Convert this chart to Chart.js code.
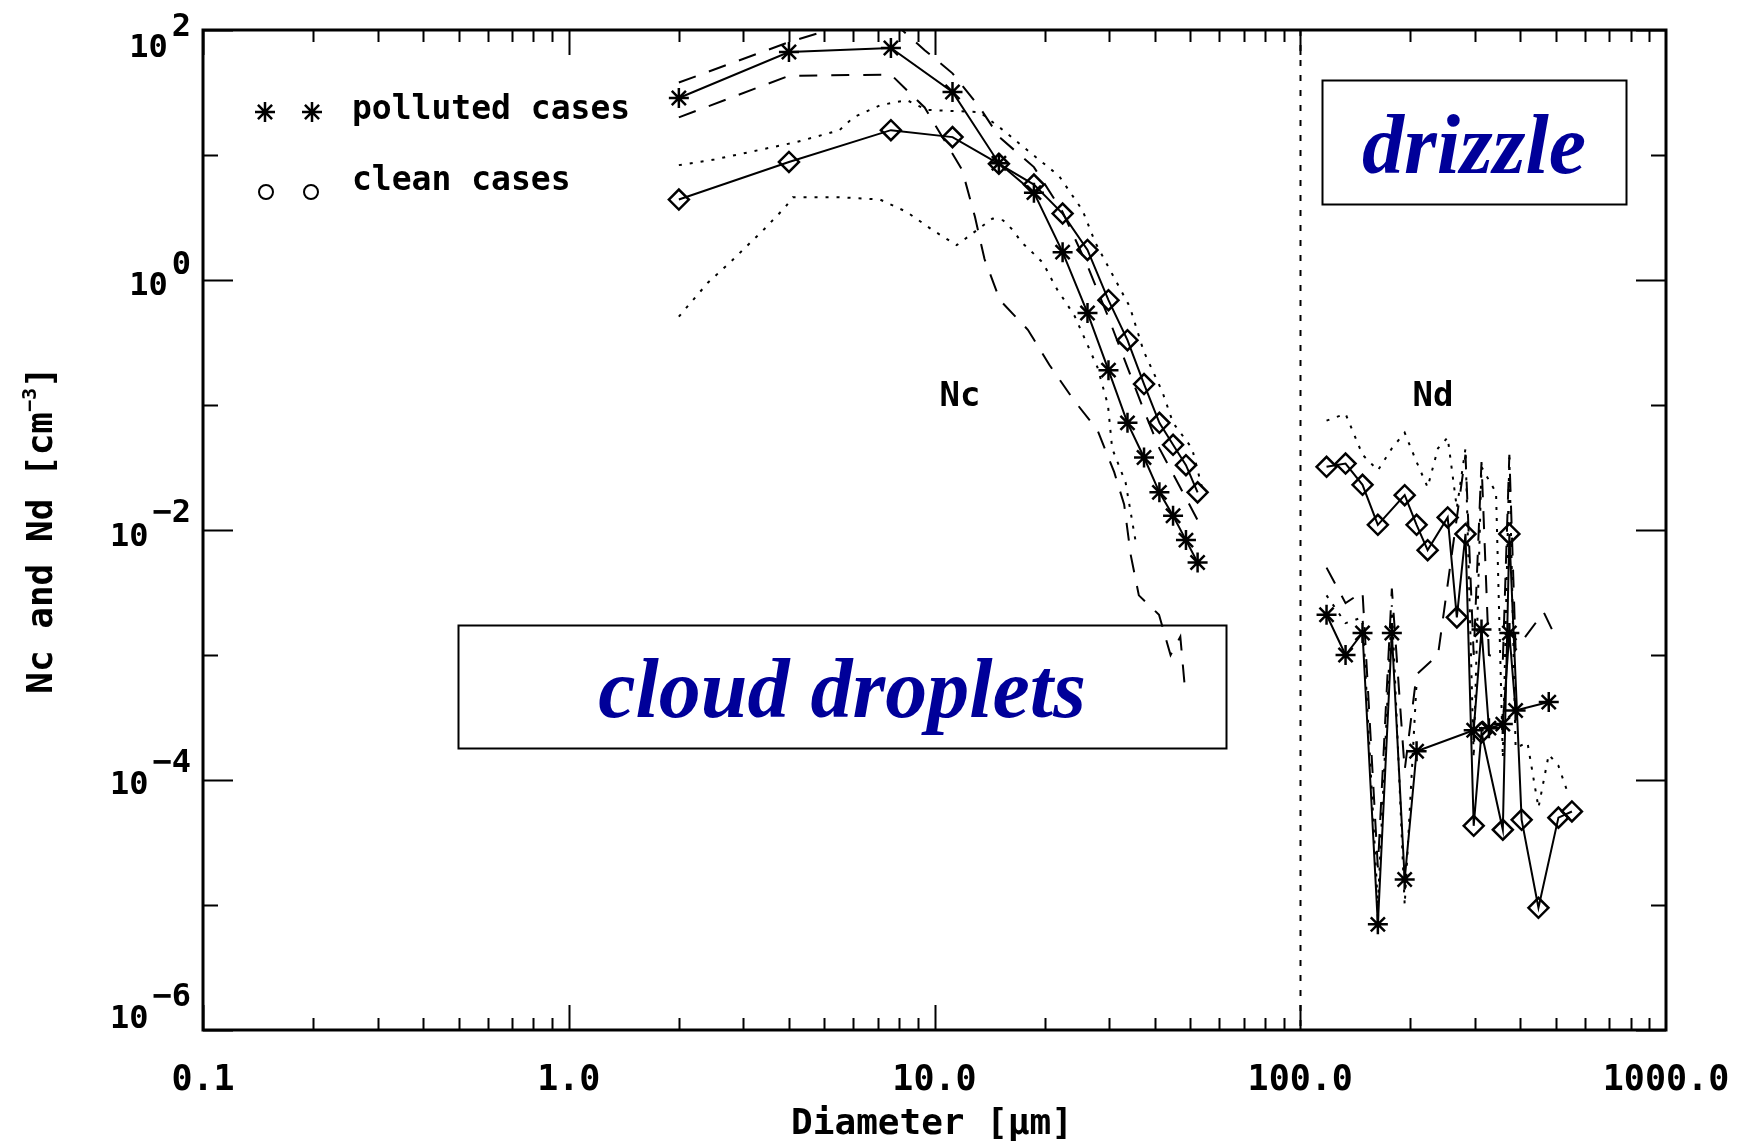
<!DOCTYPE html>
<html>
<head>
<meta charset="utf-8">
<script src="https://cdn.jsdelivr.net/npm/chart.js@4.4.1/dist/chart.umd.min.js"></script>
<style>
  html, body { margin: 0; padding: 0; background: #ffffff; }
  #wrap { width: 1746px; height: 1147px; }
</style>
</head>
<body>
<div id="wrap"><canvas id="c" width="1746" height="1147"></canvas></div>
<script>
// ---- Cloud droplet spectra (diameter in µm, concentration in cm^-3) ----
const cloudD = [2.0, 4.0, 7.6, 11.2, 15.0, 18.7, 22.4, 26.2, 29.9, 33.7, 37.4, 41.2, 44.9, 48.7, 52.4];
const pollutedMean = [28.6, 66.7, 71.8, 31.9, 8.6, 5.0, 1.67, 0.545, 0.19, 0.072, 0.038, 0.020, 0.013, 0.0083, 0.0055];
const cleanMean = [4.4, 8.8, 15.8, 13.9, 8.5, 5.8, 3.4, 1.74, 0.69, 0.33, 0.147, 0.072, 0.048, 0.033, 0.020];

const pollutedUpD = [2.0, 4.0, 6.0, 7.6, 9.4, 11.2, 13.3, 15.0, 18.7, 22.4, 26.2, 29.9, 33.7, 37.4, 41.2, 44.9, 48.7, 52.4];
const pollutedUp = [38, 80, 115, 120, 69, 45, 24, 14, 8.0, 3.5, 1.3, 0.5, 0.2, 0.09, 0.045, 0.028, 0.018, 0.012];

const pollutedLoD = [2.0, 4.0, 7.6, 9.4, 11.9, 12.9, 13.7, 15.1, 18.0, 20.6, 24.0, 27.9, 31.0, 33.0, 34.4, 36.2, 41.1, 44.2, 47.0, 48.5];
const pollutedLo = [20, 43, 44, 24, 7.6, 3.2, 1.47, 0.69, 0.40, 0.21, 0.11, 0.063, 0.029, 0.016, 0.0063, 0.0030, 0.0021, 0.0010, 0.0014, 0.0005];

const cleanUpD = [2.0, 2.5, 3.0, 4.2, 5.5, 6.0, 7.1, 8.4, 9.5, 13.3, 15.4, 18.1, 21.9, 25.4, 27.5, 30.2, 34.2, 37.3, 42.0, 44.9, 50.6, 54.3];
const cleanUp = [8.3, 9.2, 10.3, 12.7, 15.8, 20, 25, 27.5, 23, 22, 15.8, 10.7, 6.8, 3.6, 2.0, 1.2, 0.61, 0.27, 0.127, 0.072, 0.045, 0.020];

const cleanLoD = [2.0, 2.4, 2.8, 3.4, 3.9, 4.1, 5.5, 7.1, 8.4, 9.9, 11.5, 14.4, 15.4, 16.4, 17.3, 18.6, 19.8, 20.8, 21.7, 22.8, 24.2, 27.9, 29.8, 30.6, 33.3, 35.5];
const cleanLo = [0.51, 0.95, 1.44, 2.5, 3.8, 4.6, 4.6, 4.4, 3.5, 2.5, 1.9, 3.1, 3.0, 2.5, 2.0, 1.64, 1.37, 1.04, 0.83, 0.67, 0.51, 0.20, 0.10, 0.045, 0.024, 0.008];

// ---- Drizzle drop spectra ----
const drzPollMeanD = [118, 133, 148, 163, 178, 193, 208, 298, 313, 328, 358, 373, 388, 478];
const drzPollMean = [2.1e-3, 1.0e-3, 1.5e-3, 7.0e-6, 1.5e-3, 1.6e-5, 1.7e-4, 2.5e-4, 1.6e-3, 2.6e-4, 2.8e-4, 1.5e-3, 3.6e-4, 4.2e-4];

const drzPollUpD = [118, 133, 148, 163, 178, 193, 208, 238, 283, 298, 313, 328, 358, 373, 388, 463, 493];
const drzPollUp = [5.0e-3, 2.6e-3, 3.2e-3, 2.0e-5, 3.4e-3, 1.2e-4, 7.0e-4, 1.0e-3, 4.0e-2, 1.0e-3, 3.5e-2, 1.0e-3, 9.0e-4, 4.0e-2, 1.1e-3, 2.2e-3, 1.5e-3];

const drzCleanMeanD = [118, 133, 148, 163, 193, 208, 223, 253, 268, 283, 298, 313, 358, 373, 403, 448, 508, 553];
const drzCleanMean = [3.2e-2, 3.4e-2, 2.3e-2, 1.1e-2, 1.9e-2, 1.1e-2, 6.9e-3, 1.26e-2, 2.0e-3, 9.3e-3, 4.3e-5, 2.4e-4, 4.0e-5, 9.3e-3, 4.8e-5, 9.5e-6, 5.0e-5, 5.6e-5];

const drzCleanUpD = [118, 133, 148, 163, 178, 193, 208, 223, 238, 253, 268, 283, 298, 313, 328, 343, 358, 373, 388, 418, 448, 478, 508, 538];
const drzCleanUp = [7.5e-2, 8.5e-2, 4.0e-2, 3.0e-2, 4.5e-2, 6.0e-2, 3.5e-2, 2.2e-2, 4.5e-2, 5.5e-2, 1.5e-2, 4.5e-2, 1.5e-4, 3.2e-2, 2.5e-2, 2.0e-2, 1.5e-4, 3.8e-2, 1.8e-4, 2.0e-4, 6.0e-5, 1.6e-4, 1.3e-4, 8.0e-5];

const drzCleanLoD = [118, 133, 148, 163, 178, 193, 208];
const drzCleanLo = [3.0e-3, 1.8e-3, 2.0e-3, 1.0e-5, 2.5e-3, 1.0e-5, 6.0e-4];

// ---- Axis ticks and labels ----
const xTickVals = [0.1, 1, 10, 100, 1000];
const xTickLabels = ['0.1', '1.0', '10.0', '100.0', '1000.0'];
const yTickVals = [1e2, 1e0, 1e-2, 1e-4, 1e-6];
const yTickExp = ['2', '0', '\u22122', '\u22124', '\u22126'];
const yMinorVals = [1e1, 1e-1, 1e-3, 1e-5];
const boundaryD = 100;

function pts(xs, ys) { return xs.map((x, i) => ({ x: x, y: ys[i] })); }

const BLACK = '#000000';
const NONE = 'rgba(0,0,0,0)';
const DASH = [18, 14];
const DOT = [3, 8];

function series(xs, ys, dash, marker) {
  return {
    data: pts(xs, ys),
    borderColor: BLACK,
    borderWidth: 2,
    borderDash: dash,
    pointStyle: marker || 'circle',
    pointRadius: marker ? 10 : 0,
    pointBorderWidth: 2.5,
    pointBorderColor: BLACK,
    pointBackgroundColor: NONE,
    fill: false,
    tension: 0
  };
}

const MONO = '"DejaVu Sans Mono", monospace';

function drawStar(ctx, x, y, r) {
  ctx.beginPath();
  for (let k = 0; k < 4; k++) {
    const a = k * Math.PI / 4;
    ctx.moveTo(x - r * Math.cos(a), y - r * Math.sin(a));
    ctx.lineTo(x + r * Math.cos(a), y + r * Math.sin(a));
  }
  ctx.stroke();
}

const frame = {
  id: 'frame',
  beforeDraw(chart) {
    const ctx = chart.ctx;
    ctx.save();
    ctx.fillStyle = '#ffffff';
    ctx.fillRect(0, 0, chart.width, chart.height);
    ctx.restore();
  },
  beforeDatasetsDraw(chart) {
    const ctx = chart.ctx, a = chart.chartArea, xs = chart.scales.x;
    const bx = Math.round(xs.getPixelForValue(boundaryD)) + 0.5;
    ctx.save();
    ctx.strokeStyle = BLACK;
    ctx.lineWidth = 2;
    ctx.setLineDash([6, 9]);
    ctx.beginPath();
    ctx.moveTo(bx, a.top);
    ctx.lineTo(bx, a.bottom);
    ctx.stroke();
    ctx.restore();
  },
  afterDatasetsDraw(chart) {
    const ctx = chart.ctx, a = chart.chartArea;
    const xs = chart.scales.x, ys = chart.scales.y;
    ctx.save();
    ctx.strokeStyle = BLACK;
    ctx.fillStyle = BLACK;
    ctx.setLineDash([]);

    // ticks
    ctx.lineWidth = 2;
    ctx.beginPath();
    for (let e = -1; e <= 2; e++) {
      for (let k = 1; k <= 9; k++) {
        const v = k * Math.pow(10, e);
        const px = Math.round(xs.getPixelForValue(v)) + 0.5;
        const len = k === 1 ? 25 : 12;
        ctx.moveTo(px, a.bottom); ctx.lineTo(px, a.bottom - len);
        ctx.moveTo(px, a.top); ctx.lineTo(px, a.top + len);
      }
    }
    yTickVals.forEach(v => {
      const py = Math.round(ys.getPixelForValue(v)) + 0.5;
      ctx.moveTo(a.left, py); ctx.lineTo(a.left + 30, py);
      ctx.moveTo(a.right, py); ctx.lineTo(a.right - 30, py);
    });
    yMinorVals.forEach(v => {
      const py = Math.round(ys.getPixelForValue(v)) + 0.5;
      ctx.moveTo(a.left, py); ctx.lineTo(a.left + 15, py);
      ctx.moveTo(a.right, py); ctx.lineTo(a.right - 15, py);
    });
    ctx.stroke();

    // plot frame
    ctx.lineWidth = 3;
    ctx.strokeRect(a.left, a.top, a.right - a.left, a.bottom - a.top);

    // x tick labels
    ctx.font = 'bold 35px ' + MONO;
    ctx.textAlign = 'center';
    ctx.textBaseline = 'alphabetic';
    xTickVals.forEach((v, i) => {
      ctx.fillText(xTickLabels[i], xs.getPixelForValue(v), 1090);
    });

    // y tick labels: 10 with raised exponent
    const baseOff = [27, 15, 16, 14, -2];
    const expOff = [6, -6, -8, -8, -24];
    ctx.font = 'bold 32px ' + MONO;
    ctx.textAlign = 'right';
    yTickVals.forEach((v, i) => {
      const py = ys.getPixelForValue(v);
      const right = 191;
      const ew = ctx.measureText(yTickExp[i]).width;
      ctx.fillText(yTickExp[i], right, py + expOff[i]);
      ctx.fillText('10', right - ew - 4, py + baseOff[i]);
    });

    // axis titles
    ctx.font = 'bold 36px ' + MONO;
    ctx.textAlign = 'center';
    ctx.fillText('Diameter [\u00b5m]', 932, 1134);

    ctx.save();
    ctx.translate(52, 530);
    ctx.rotate(-Math.PI / 2);
    ctx.font = 'bold 36px ' + MONO;
    const t1 = 'Nc and Nd [cm';
    const t2 = '\u22123';
    const t3 = ']';
    const w1 = ctx.measureText(t1).width;
    ctx.font = 'bold 20px ' + MONO;
    const w2 = ctx.measureText(t2).width;
    ctx.font = 'bold 36px ' + MONO;
    const w3 = ctx.measureText(t3).width;
    let sx = -(w1 + w2 + w3) / 2;
    ctx.textAlign = 'left';
    ctx.fillText(t1, sx, 0);
    ctx.font = 'bold 20px ' + MONO;
    ctx.fillText(t2, sx + w1, -16);
    ctx.font = 'bold 36px ' + MONO;
    ctx.fillText(t3, sx + w1 + w2, 0);
    ctx.restore();

    // region labels
    ctx.font = 'bold 34px ' + MONO;
    ctx.textAlign = 'center';
    ctx.fillText('Nc', 960, 406);
    ctx.fillText('Nd', 1433, 406);

    // legend
    ctx.lineWidth = 2.5;
    drawStar(ctx, 265, 112, 10);
    drawStar(ctx, 312, 112, 10);
    ctx.lineWidth = 2;
    ctx.beginPath(); ctx.arc(266, 192, 7, 0, 2 * Math.PI); ctx.stroke();
    ctx.beginPath(); ctx.arc(311, 192, 7, 0, 2 * Math.PI); ctx.stroke();
    ctx.font = 'bold 33px ' + MONO;
    ctx.textAlign = 'left';
    ctx.fillText('polluted cases', 352, 119);
    ctx.fillText('clean cases', 352, 190);

    // annotation boxes
    ctx.lineWidth = 2;
    ctx.strokeRect(1322.5, 80.5, 304, 124);
    ctx.strokeRect(458.5, 625.5, 768, 123);
    ctx.fillStyle = '#000099';
    ctx.font = 'italic bold 84px "Liberation Serif", "Times New Roman", serif';
    ctx.textAlign = 'center';
    ctx.fillText('drizzle', 1474, 173);
    ctx.fillText('cloud droplets', 842, 717);
    ctx.restore();
  }
};

new Chart(document.getElementById('c').getContext('2d'), {
  type: 'line',
  data: {
    datasets: [
      series(pollutedUpD, pollutedUp, DASH),
      series(pollutedLoD, pollutedLo, DASH),
      series(cleanUpD, cleanUp, DOT),
      series(cleanLoD, cleanLo, DOT),
      series(cloudD, cleanMean, [], 'rectRot'),
      series(cloudD, pollutedMean, [], 'star'),
      series(drzPollUpD, drzPollUp, DASH),
      series(drzCleanUpD, drzCleanUp, DOT),
      series(drzCleanLoD, drzCleanLo, DOT),
      series(drzCleanMeanD, drzCleanMean, [], 'rectRot'),
      series(drzPollMeanD, drzPollMean, [], 'star')
    ]
  },
  options: {
    responsive: false,
    animation: false,
    devicePixelRatio: 1,
    layout: { padding: { left: 203, right: 80, top: 30, bottom: 117 } },
    scales: {
      x: { type: 'logarithmic', min: 0.1, max: 1000, display: false },
      y: { type: 'logarithmic', min: 1e-6, max: 100, display: false }
    },
    plugins: { legend: { display: false }, tooltip: { enabled: false } }
  },
  plugins: [frame]
});
</script>
</body>
</html>
